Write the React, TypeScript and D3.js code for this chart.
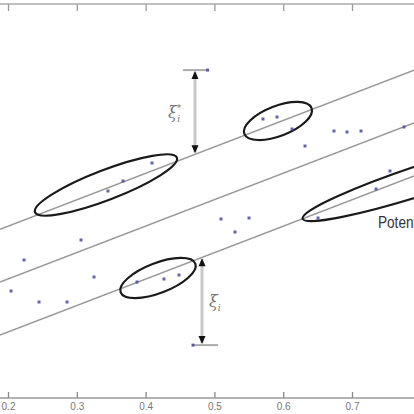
import React, { useEffect, useRef } from "react";
import * as d3 from "d3";

// x axis ticks
const xTicks = [0.2, 0.3, 0.4, 0.5, 0.6, 0.7];

// training samples
const sampleX = [
  0.2233, 0.3061, 0.2044, 0.2451, 0.2858, 0.325, 0.3453, 0.3672, 0.4093,
  0.3875, 0.4267, 0.4485, 0.5096, 0.5503, 0.5299, 0.5706, 0.591, 0.6128,
  0.6317, 0.6738, 0.6927, 0.7131, 0.7756, 0.7552, 0.7349, 0.6506,
];
const sampleY = [
  0.272, 0.3475, 0.1546, 0.113, 0.113, 0.2076, 0.5328, 0.5706, 0.6387,
  0.1887, 0.2, 0.2151, 0.427, 0.4307, 0.3778, 0.8051, 0.8127, 0.7673,
  0.703, 0.7597, 0.756, 0.7597, 0.7748, 0.6085, 0.5404, 0.4307,
];

// regression line y = slope * x + intercept, tube half width epsilon
const slope = 1;
const intercept = 0;
const epsilon = 0.2;

// points outside the tube with their slack
const slackX = [0.4718, 0.482];
const slackY = [0.99, -0.05];
const slackLabels = ["upper", "lower"];

// circled groups: centre in data units
const groupX = [0.3424, 0.5924, 0.418, 0.8148];
const groupY = [0.5556, 0.7976, 0.2038, 0.5858];

const W = 414;
const H = 414;

export default function App() {
  const ref = useRef<SVGSVGElement>(null);

  useEffect(() => {
    if (!ref.current) return;
    const svg = d3.select(ref.current);
    svg.selectAll("*").remove();

    const x = d3.scaleLinear().domain([0.2, 0.7]).range([8, 352]);
    const y = d3.scaleLinear().domain([-0.25, 1.24]).range([398, 4]);
    const f = (v: number) => slope * v + intercept;

    svg.append("rect").attr("width", W).attr("height", H).attr("fill", "#fff");

    // axes
    const bottom = svg
      .append("g")
      .attr("transform", `translate(0,${y(-0.25)})`)
      .call(
        d3
          .axisBottom(x)
          .tickValues(xTicks)
          .tickSize(-6)
          .tickSizeOuter(0)
          .tickPadding(5)
          .tickFormat(d3.format(".1f"))
      );
    bottom.select(".domain").remove();
    bottom.selectAll(".tick line").attr("stroke", "#888").attr("stroke-width", 1.3);
    bottom
      .selectAll(".tick text")
      .attr("fill", "#777")
      .style("font-family", "Liberation Sans, Arial, sans-serif")
      .style("font-size", "10px");
    bottom
      .append("line")
      .attr("x1", 0)
      .attr("x2", W)
      .attr("stroke", "#999")
      .attr("stroke-width", 1.6);

    const top = svg
      .append("g")
      .attr("transform", `translate(0,${y(1.24)})`)
      .call(
        d3
          .axisTop(x)
          .tickValues(xTicks)
          .tickSize(-7)
          .tickSizeOuter(0)
          .tickFormat(() => "")
      );
    top.select(".domain").remove();
    top.selectAll(".tick line").attr("stroke", "#999").attr("stroke-width", 1.3);
    top
      .append("line")
      .attr("x1", 0)
      .attr("x2", W)
      .attr("stroke", "#aaa")
      .attr("stroke-width", 1.6);

    // regression line and epsilon tube
    const xs = [x.invert(0), x.invert(W)];
    const line = d3
      .line<number>()
      .x((d) => x(d))
      .y((d) => y(d));
    [epsilon, 0, -epsilon].forEach((off) => {
      svg
        .append("path")
        .attr("d", line.y((d) => y(f(d) + off))(xs))
        .attr("fill", "none")
        .attr("stroke", "#999")
        .attr("stroke-width", 1.5);
    });

    // ellipses around groups
    const tilt = (Math.atan2(y(1) - y(0), x(1) - x(0)) * 180) / Math.PI;
    const rx = [76, 36, 40, 135];
    const ry = [15, 15, 15, 15];
    const extraTilt = [0, 0, 0, 3];
    groupX.forEach((gx, i) => {
      svg
        .append("ellipse")
        .attr("cx", 0)
        .attr("cy", 0)
        .attr("rx", rx[i])
        .attr("ry", ry[i])
        .attr(
          "transform",
          `translate(${x(gx)},${y(groupY[i])}) rotate(${tilt + extraTilt[i]})`
        )
        .attr("fill", "none")
        .attr("stroke", "#1a1a1a")
        .attr("stroke-width", 2.2);
    });

    // slack arrows
    slackX.forEach((sx, i) => {
      const px = x(sx);
      const yEdge = y(f(sx) + (slackY[i] > f(sx) ? epsilon : -epsilon));
      const yPt = y(slackY[i]);
      const y1 = Math.min(yEdge, yPt);
      const y2 = Math.max(yEdge, yPt);
      const barX = i === 0 ? px + 1 : px + 3;
      svg
        .append("line")
        .attr("x1", barX - 13)
        .attr("x2", barX + 13)
        .attr("y1", yPt)
        .attr("y2", yPt)
        .attr("stroke", "#aaa")
        .attr("stroke-width", 2);
      svg
        .append("line")
        .attr("x1", px)
        .attr("x2", px)
        .attr("y1", y1 + 2)
        .attr("y2", y2 - 2)
        .attr("stroke", "#c8c8c8")
        .attr("stroke-width", 3);
      svg
        .append("path")
        .attr("d", `M${px},${y1 + 1} L${px - 3.5},${y1 + 9} L${px + 3.5},${y1 + 9} Z`)
        .attr("fill", "#111");
      svg
        .append("path")
        .attr("d", `M${px},${y2 - 1} L${px - 3.5},${y2 - 9} L${px + 3.5},${y2 - 9} Z`)
        .attr("fill", "#111");

      const lab = svg
        .append("text")
        .attr("x", slackLabels[i] === "upper" ? px - 27 : px + 7)
        .attr("y", (y1 + y2) / 2 + 6)
        .attr("fill", "#777")
        .style("font-family", "DejaVu Serif, serif")
        .style("font-style", "italic")
        .style("font-size", "16px");
      lab.append("tspan").text("ξ");
      if (slackLabels[i] === "upper") {
        lab.append("tspan").attr("font-size", "9px").attr("dy", -7).text("*");
        lab.append("tspan").attr("font-size", "9px").attr("dx", -4).attr("dy", 11).text("i");
      } else {
        lab.append("tspan").attr("font-size", "9px").attr("dy", 4).text("i");
      }
    });

    // samples
    const pts = sampleX
      .map((v, i) => [v, sampleY[i]])
      .concat(slackX.map((v, i) => [v + (i === 0 ? 0.0183 : -0.0131), slackY[i]]));
    svg
      .append("g")
      .selectAll("rect")
      .data(pts)
      .enter()
      .append("rect")
      .attr("x", (d) => x(d[0]) - 1.5)
      .attr("y", (d) => y(d[1]) - 1.5)
      .attr("width", 3)
      .attr("height", 3)
      .attr("fill", "#4a4a9c")
      .attr("opacity", 0.85);

    // annotation (cut off by the right edge, as in the source figure)
    svg
      .append("text")
      .attr("transform", `translate(378,228) scale(0.8,1)`)
      .attr("fill", "#333")
      .style("font-family", "Liberation Sans, Arial, sans-serif")
      .style("font-size", "17px")
      .text("Potential outliers");
  }, []);

  return (
    <svg
      ref={ref}
      width={W}
      height={H}
      style={{ position: "absolute", left: 0, top: 0 }}
    />
  );
}
